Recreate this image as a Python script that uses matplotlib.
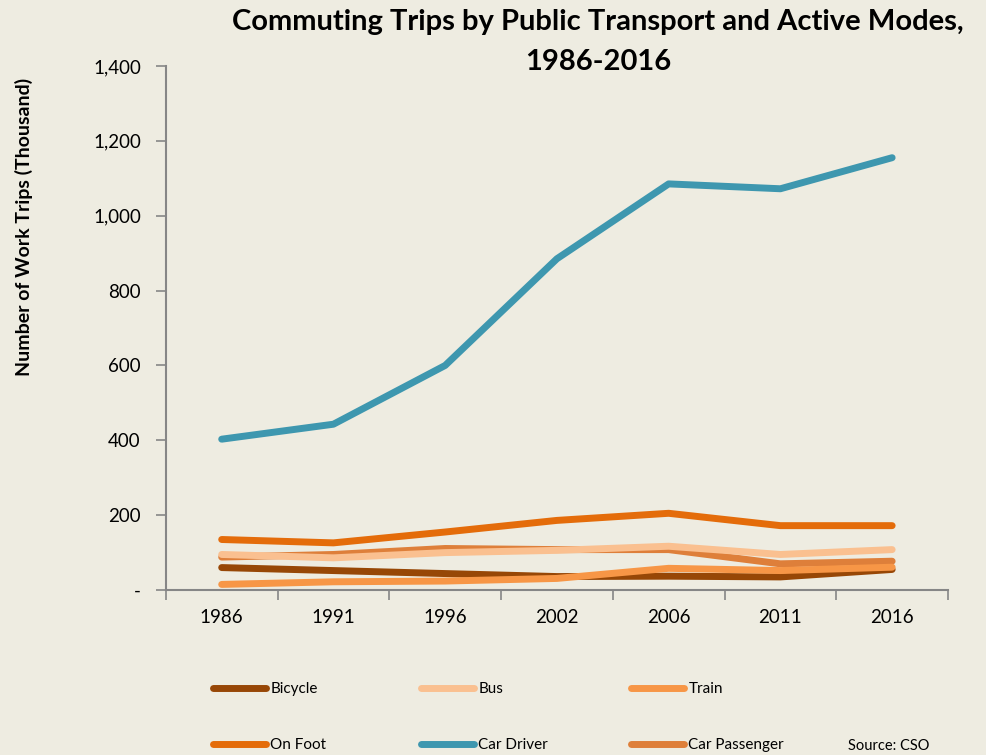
import matplotlib.pyplot as plt
from matplotlib.ticker import FuncFormatter, FixedLocator

# Data (thousands of work trips)
years = ['1986', '1991', '1996', '2002', '2006', '2011', '2016']
bicycle = [60, 52, 44, 36, 37, 35, 55]
bus = [95, 86, 100, 106, 117, 95, 108]
train = [15, 22, 24, 31, 58, 52, 61]
on_foot = [135, 126, 155, 186, 205, 172, 172]
car_driver = [403, 443, 600, 885, 1085, 1072, 1155]
car_passenger = [88, 95, 111, 108, 108, 70, 77]

series = [
    ('Bicycle', bicycle, '#974706'),
    ('On Foot', on_foot, '#E46C0A'),
    ('Bus', bus, '#FAC090'),
    ('Car Driver', car_driver, '#3E97AF'),
    ('Train', train, '#F79646'),
    ('Car Passenger', car_passenger, '#DE7F3A'),
]

bg = '#EEECE1'
plt.rcParams['font.family'] = ['Lato', 'DejaVu Sans']

fig = plt.figure(figsize=(9.87, 7.55), dpi=100, facecolor=bg)
ax = fig.add_axes([0.168, 0.2185, 0.7925, 0.6941], facecolor=bg)

x = list(range(len(years)))
# draw order: keep Car Driver / On Foot on top like the reference
draw_order = ['Car Driver', 'Bicycle', 'Car Passenger', 'Bus', 'Train', 'On Foot']
handles = {}
for name, vals, col in series:
    ln, = ax.plot(x, vals, color=col, lw=5, solid_capstyle='round',
                  solid_joinstyle='round', label=name,
                  zorder=3 + draw_order.index(name))
    handles[name] = ln

ax.set_xlim(-0.5, 6.5)
ax.set_ylim(0, 1400)
ax.set_yticks(range(0, 1401, 200))
ax.yaxis.set_major_formatter(FuncFormatter(lambda v, p: '-' if v == 0 else f'{int(v):,}'))
ax.set_xticks(x)
ax.set_xticklabels(years)
ax.xaxis.set_minor_locator(FixedLocator([i - 0.5 for i in range(8)]))
ax.tick_params(axis='x', which='major', length=0, pad=14, labelsize=13.5, colors='#000000')
ax.tick_params(axis='x', which='minor', length=7, color='#868686', width=1.2, direction='out')
ax.tick_params(axis='y', length=7, color='#868686', width=1.2, labelsize=13.5, pad=11)

for s in ['top', 'right']:
    ax.spines[s].set_visible(False)
for s in ['left', 'bottom']:
    ax.spines[s].set_color('#868686')
    ax.spines[s].set_linewidth(1.5)

fig.text(0.606, 0.988, 'Commuting Trips by Public Transport and Active Modes,\n1986-2016',
         ha='center', va='top', fontsize=21, fontweight='bold', linespacing=1.65)
fig.text(0.024, 0.70, 'Number of Work Trips (Thousand)', rotation=90,
         ha='center', va='center', fontsize=14, fontweight='bold')

# legend: three columns, two rows
columns = [('Bicycle', 'On Foot'), ('Bus', 'Car Driver'), ('Train', 'Car Passenger')]
col_x = [213, 421, 631]
for names, px in zip(columns, col_x):
    leg = fig.legend([handles[n] for n in names], list(names), loc='upper left',
                     bbox_to_anchor=(px / 987, 1 - 682 / 755), frameon=False,
                     fontsize=11, handlelength=3.5, handletextpad=0.25,
                     labelspacing=2.75, borderpad=0, borderaxespad=0)

fig.text(848 / 987, 1 - 746 / 755, 'Source: CSO', fontsize=10.5, ha='left', va='center')

fig.savefig('out.png', dpi=100, facecolor=bg)
